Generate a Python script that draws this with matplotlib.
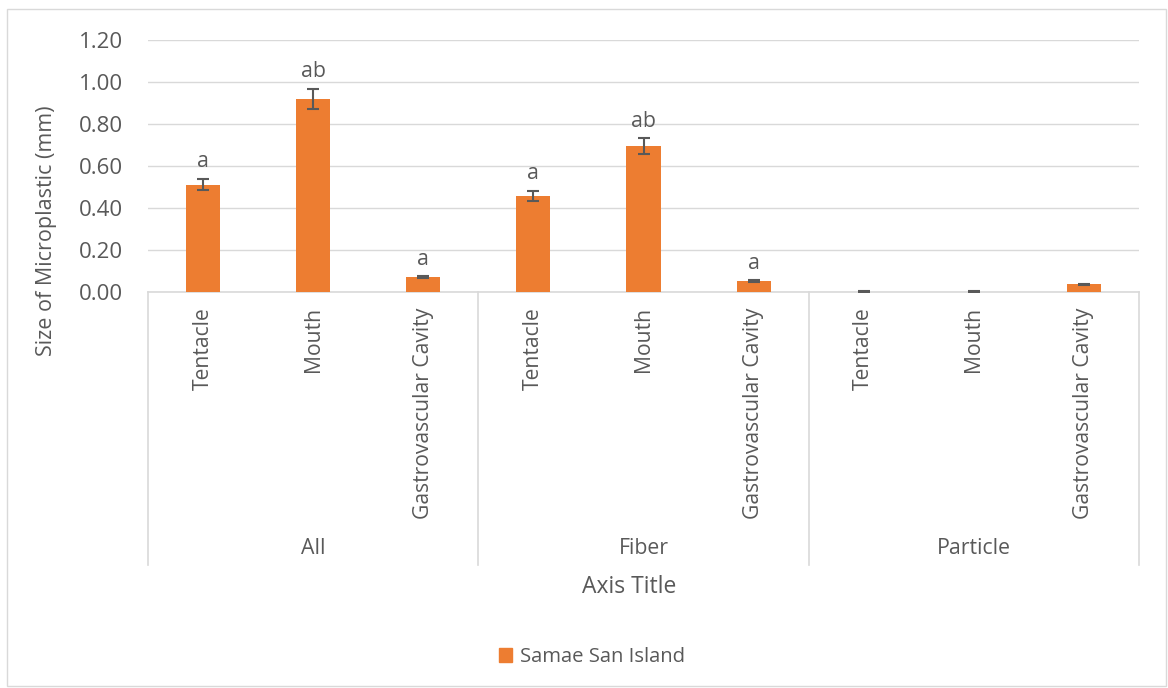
import matplotlib
matplotlib.use("Agg")
import matplotlib.pyplot as plt
from matplotlib.patches import Rectangle, Patch
from matplotlib.transforms import blended_transform_factory

plt.rcParams['font.family'] = ['Open Sans', 'DejaVu Sans']

groups = ["All", "Fiber", "Particle"]
parts = ["Tentacle", "Mouth", "Gastrovascular Cavity"]
values = [0.51, 0.919, 0.071, 0.456, 0.695, 0.052, 0.002, 0.002, 0.037]
errors = [0.026, 0.046, 0.003, 0.025, 0.036, 0.003, 0.001, 0.001, 0.003]
letters = ["a", "ab", "a", "a", "ab", "a", "", "", ""]
series_name = "Samae San Island"
yticks = [0.0, 0.2, 0.4, 0.6, 0.8, 1.0, 1.2]

W, H = 1168, 688
fig = plt.figure(figsize=(W / 100, H / 100), dpi=100)
TXT = "#595959"
GRID = "#D9D9D9"
ORANGE = "#ED7D31"

# outer chart border
fig.patches.append(Rectangle((7 / W, 2 / H), (1166 - 7) / W, (679 - 2) / H,
                             transform=fig.transFigure, fill=False,
                             edgecolor=GRID, lw=1))

left, right, top, bottom = 148, 1139, 40, 292
ax = fig.add_axes([left / W, (H - bottom) / H, (right - left) / W, (bottom - top) / H])

x = list(range(len(values)))
ax.bar(x, values, width=0.31, color=ORANGE, zorder=3)
ax.errorbar(x, values, yerr=errors, fmt="none", ecolor=TXT, elinewidth=1.5,
            capsize=4.5, capthick=1.5, zorder=4)

for xi, v, e, l in zip(x, values, errors, letters):
    if l:
        ax.annotate(l, (xi, v + e), xytext=(0, 5), textcoords="offset points",
                    ha="center", va="bottom", fontsize=15.3, color=TXT)

ax.set_xlim(-0.5, len(values) - 0.5)
ax.set_ylim(0, 1.2)
ax.set_yticks(yticks)
ax.set_yticklabels([f"{t:.2f}" for t in yticks])
ax.yaxis.grid(True, color=GRID, lw=1, zorder=0)
ax.set_axisbelow(True)
for s in ["top", "right", "left"]:
    ax.spines[s].set_visible(False)
ax.spines["bottom"].set_color(GRID)
ax.spines["bottom"].set_linewidth(1.2)
ax.tick_params(axis="y", length=0, pad=18, labelsize=16, labelcolor=TXT)

ax.set_xticks(x)
ax.set_xticklabels(parts * len(groups), rotation=90, va="top", ha="center")
ax.tick_params(axis="x", length=0, pad=11, labelsize=15.2, labelcolor=TXT)

ax.set_ylabel("Size of Microplastic (mm)", fontsize=15.5, color=TXT)
ax.yaxis.set_label_coords(-0.092, 0.242)

trans = blended_transform_factory(ax.transData, ax.transAxes)
ybot = (bottom - 565) / (bottom - top)
n = len(parts)
for gi in range(len(groups) + 1):
    xs = gi * n - 0.5
    ax.plot([xs, xs], [0, ybot], transform=trans, color=GRID, lw=1.2, clip_on=False)
ylab = (bottom - 549) / (bottom - top)
for gi, g in enumerate(groups):
    ax.text(gi * n + (n - 1) / 2, ylab, g, transform=trans, ha="center", va="center",
            fontsize=15.3, color=TXT)

fig.text(629 / W, (H - 587) / H, "Axis Title", ha="center", va="center",
         fontsize=16.5, color=TXT)

leg = fig.legend(handles=[Patch(color=ORANGE, label=series_name)],
                 loc="center", bbox_to_anchor=(592 / W, (H - 657) / H),
                 frameon=False, fontsize=14.6, handlelength=0.65, handleheight=0.65,
                 handletextpad=0.4)
for t in leg.get_texts():
    t.set_color(TXT)

fig.savefig("out.png", dpi=100, facecolor="white")
